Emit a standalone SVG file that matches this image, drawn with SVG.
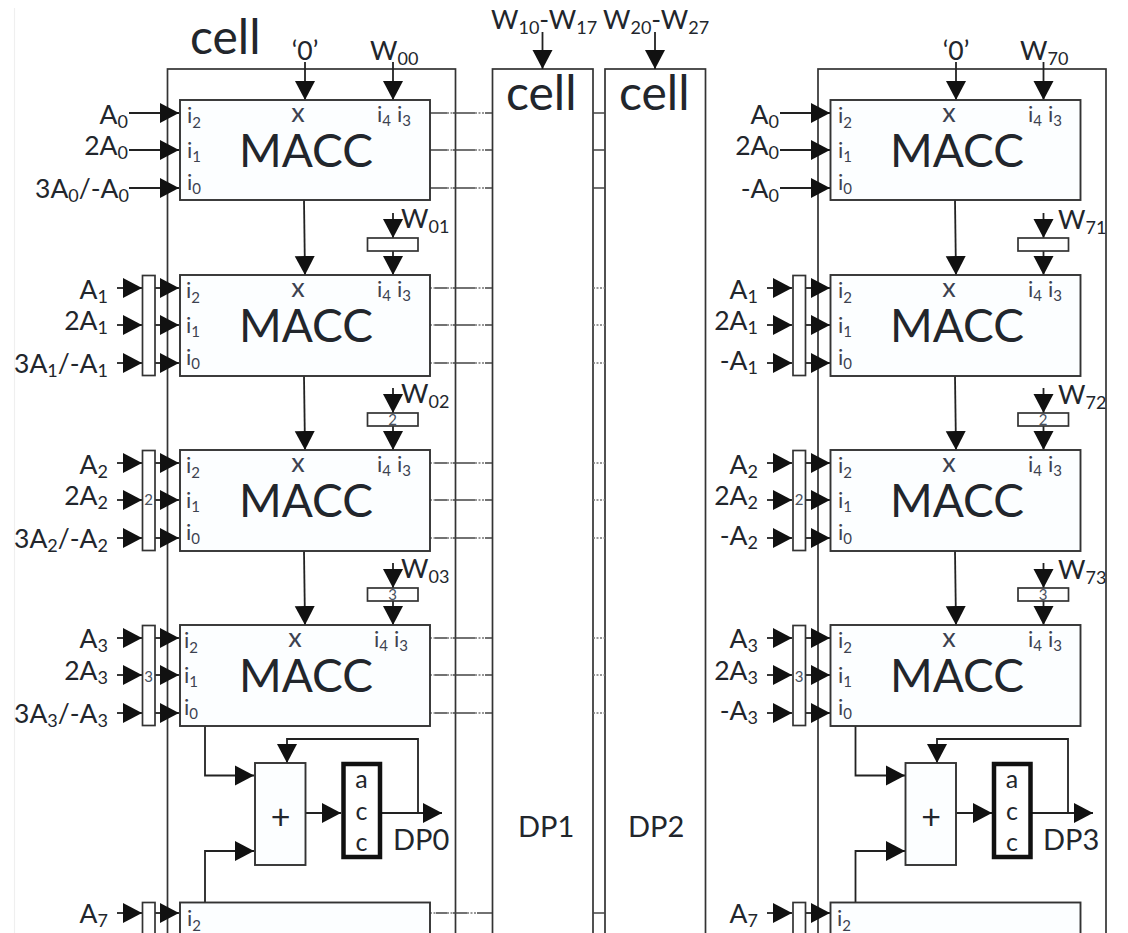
<svg xmlns="http://www.w3.org/2000/svg" width="1128" height="933" viewBox="0 0 1128 933">
<style>
text{font-family:"Lato","Carlito","Noto Sans",sans-serif;fill:#22262c}
.box{fill:#fff;stroke:#333;stroke-width:1.7}
.mb{fill:#fcfeff;stroke:#333;stroke-width:1.9}
.acc{fill:#fff;stroke:#111;stroke-width:4.5}
.a{stroke:#222;stroke-width:1.8;fill:none;marker-end:url(#h)}
.o{stroke:#444;stroke-width:1.4;fill:none}
.d{stroke:#777;stroke-width:1.4;fill:none;stroke-dasharray:2 1.5}
.big{font-size:48px}
.m{font-size:46px;text-anchor:middle}
.l{font-size:26.500px}
.e{font-size:26.500px;text-anchor:end}
.dp{font-size:29px}
.i{font-size:22px;fill:#3c4250}
.x{font-size:27px;text-anchor:middle;fill:#3c4250}
.s{font-size:18px}
.t{font-size:15px}
.n{font-size:15px;fill:#4a5260;text-anchor:middle}
.ac{font-size:25px;text-anchor:middle}
</style>
<defs>
<marker id="h" markerUnits="userSpaceOnUse" markerWidth="20" markerHeight="21" refX="19" refY="10.500" orient="auto"><path d="M0,0.500 L19,10.500 L0,20.500 Z" fill="#111"/></marker>
</defs>
<path d="M14.500,8V933" stroke="#efefef" stroke-width="1.2" fill="none"/>

<g id="cell0"><rect class="box" x="167.500" y="69" width="288" height="900"/><text class="big" x="190" y="54">cell</text></g>
<g id="cell1"><rect class="box" x="492.500" y="69" width="100.500" height="900"/><text class="big" x="506" y="110">cell</text><text class="dp" x="518" y="837">DP1</text></g>
<g id="cell2"><rect class="box" x="605" y="69" width="100.500" height="900"/><text class="big" x="619" y="110">cell</text><text class="dp" x="628" y="837">DP2</text></g>
<g id="cell3"><rect class="box" x="818" y="69" width="288" height="900"/></g>

<g id="connectors">
<path class="a" d="M305,62V100"/><path class="a" d="M393,62V100"/>
<path class="a" d="M304,200L305,275"/><path class="a" d="M393,213V238"/><path class="a" d="M393,251V275"/>
<path class="a" d="M304,376L305,450"/><path class="a" d="M393,388V413"/><path class="a" d="M393,426V450"/>
<path class="a" d="M304,551L305,625"/><path class="a" d="M393,563V588"/><path class="a" d="M393,601V625"/>
<path class="a" d="M129,113H179"/><path class="a" d="M129,150H179"/><path class="a" d="M129,188H179"/>
<path class="a" d="M117,288H142"/><path class="a" d="M117,325H142"/><path class="a" d="M117,363H142"/>
<path class="a" d="M155,288H179"/><path class="a" d="M155,325H179"/><path class="a" d="M155,363H179"/>
<path class="a" d="M117,463H142"/><path class="a" d="M117,500H142"/><path class="a" d="M117,538H142"/>
<path class="a" d="M155,463H179"/><path class="a" d="M155,500H179"/><path class="a" d="M155,538H179"/>
<path class="a" d="M117,638H142"/><path class="a" d="M117,675H142"/><path class="a" d="M117,713H142"/>
<path class="a" d="M155,638H179"/><path class="a" d="M155,675H179"/><path class="a" d="M155,713H179"/>
<path class="a" d="M117,913H142"/><path class="a" d="M155,913H179"/>
<path class="a" d="M205,726V775.500H254"/><path class="a" d="M205,902V851H254"/>
<path class="a" d="M418,813V739H287V763"/><path class="a" d="M305,813H341"/><path class="a" d="M382,813H442"/>
<path class="a" d="M542.500,32V69"/><path class="a" d="M655,32V69"/>
<path class="a" d="M956,62V100"/><path class="a" d="M1043.500,62V100"/>
<path class="a" d="M955,200L956,275"/><path class="a" d="M1043.500,213V238"/><path class="a" d="M1043.500,251V275"/>
<path class="a" d="M955,376L956,450"/><path class="a" d="M1043.500,388V413"/><path class="a" d="M1043.500,426V450"/>
<path class="a" d="M955,551L956,625"/><path class="a" d="M1043.500,563V588"/><path class="a" d="M1043.500,601V625"/>
<path class="a" d="M780,113H830"/><path class="a" d="M780,150H830"/><path class="a" d="M780,188H830"/>
<path class="a" d="M767,288H792"/><path class="a" d="M767,325H792"/><path class="a" d="M767,363H792"/>
<path class="a" d="M806,288H830"/><path class="a" d="M806,325H830"/><path class="a" d="M806,363H830"/>
<path class="a" d="M767,463H792"/><path class="a" d="M767,500H792"/><path class="a" d="M767,538H792"/>
<path class="a" d="M806,463H830"/><path class="a" d="M806,500H830"/><path class="a" d="M806,538H830"/>
<path class="a" d="M767,638H792"/><path class="a" d="M767,675H792"/><path class="a" d="M767,713H792"/>
<path class="a" d="M806,638H830"/><path class="a" d="M806,675H830"/><path class="a" d="M806,713H830"/>
<path class="a" d="M767,913H792"/><path class="a" d="M806,913H830"/>
<path class="a" d="M855.500,726V775.500H905"/><path class="a" d="M855.500,902V851H905"/>
<path class="a" d="M1068,813V739H937V763"/><path class="a" d="M955.500,813H992"/><path class="a" d="M1032,813H1093"/>
<path class="o" d="M430,113H447M453,113H475M485,113H492M430,150H447M453,150H475M485,150H492M430,188H447M453,188H475M485,188H492"/>
<path class="d" d="M447,113H453M475,113H485M447,150H453M475,150H485M447,188H453M475,188H485"/>
<path class="o" d="M435,288H447M453,288H475M485,288H492M435,325H447M453,325H475M485,325H492M435,363H447M453,363H475M485,363H492"/>
<path class="d" d="M430,288H435M447,288H453M475,288H485M430,325H435M447,325H453M475,325H485M430,363H435M447,363H453M475,363H485"/>
<path class="o" d="M435,463H447M453,463H475M485,463H492M435,500H447M453,500H475M485,500H492M435,538H447M453,538H475M485,538H492"/>
<path class="d" d="M430,463H435M447,463H453M475,463H485M430,500H435M447,500H453M475,500H485M430,538H435M447,538H453M475,538H485"/>
<path class="o" d="M435,638H447M453,638H475M485,638H492M435,675H447M453,675H475M485,675H492M435,713H447M453,713H475M485,713H492"/>
<path class="d" d="M430,638H435M447,638H453M475,638H485M430,675H435M447,675H453M475,675H485M430,713H435M447,713H453M475,713H485"/>
<path class="o" d="M436,913H447M453,913H467M477,913H492"/><path class="d" d="M430,913H436M447,913H453M467,913H477"/>
<path class="o" d="M593,113H605M593,150H605M593,188H605M593,913H605"/>
<path class="d" d="M593,288H605M593,325H605M593,363H605M593,463H605M593,500H605M593,538H605M593,638H605M593,675H605M593,713H605"/>
</g>

<g id="top-labels">
<text class="l" x="305" y="60" text-anchor="middle">‘0’</text>
<text class="l" x="370" y="60">W<tspan class="s" dy="5">00</tspan></text>
<text class="l" x="491" y="29">W<tspan class="s" dy="5">10</tspan><tspan dy="-5">-W</tspan><tspan class="s" dy="5">17</tspan></text>
<text class="l" x="603" y="29">W<tspan class="s" dy="5">20</tspan><tspan dy="-5">-W</tspan><tspan class="s" dy="5">27</tspan></text>
<text class="l" x="956" y="60" text-anchor="middle">‘0’</text>
<text class="l" x="1020" y="60">W<tspan class="s" dy="5">70</tspan></text>
</g>

<g id="macc-l0"><rect class="mb" x="180" y="100" width="250" height="100"/><text class="x" x="298" y="122">x</text><text class="i" x="377" y="122">i<tspan class="t" dy="4">4</tspan></text><text class="i" x="397" y="122">i<tspan class="t" dy="4">3</tspan></text><text class="i" x="187" y="123">i<tspan class="t" dy="5">2</tspan></text><text class="i" x="187" y="158">i<tspan class="t" dy="4">1</tspan></text><text class="i" x="187" y="190">i<tspan class="t" dy="4">0</tspan></text><text class="m" x="306" y="167">MACC</text></g>
<g id="macc-l1"><rect class="mb" x="180" y="275" width="250" height="101"/><text class="x" x="298" y="297">x</text><text class="i" x="377" y="297">i<tspan class="t" dy="4">4</tspan></text><text class="i" x="397" y="297">i<tspan class="t" dy="4">3</tspan></text><text class="i" x="186" y="298">i<tspan class="t" dy="5">2</tspan></text><text class="i" x="186" y="333">i<tspan class="t" dy="4">1</tspan></text><text class="i" x="186" y="365">i<tspan class="t" dy="4">0</tspan></text><text class="m" x="306" y="342">MACC</text></g>
<g id="macc-l2"><rect class="mb" x="180" y="450" width="250" height="101"/><text class="x" x="298" y="472">x</text><text class="i" x="377" y="472">i<tspan class="t" dy="4">4</tspan></text><text class="i" x="397" y="472">i<tspan class="t" dy="4">3</tspan></text><text class="i" x="186" y="473">i<tspan class="t" dy="5">2</tspan></text><text class="i" x="186" y="508">i<tspan class="t" dy="4">1</tspan></text><text class="i" x="186" y="540">i<tspan class="t" dy="4">0</tspan></text><text class="m" x="306" y="517">MACC</text></g>
<g id="macc-l3"><rect class="mb" x="180" y="625" width="250" height="101"/><text class="x" x="295" y="647">x</text><text class="i" x="374" y="647">i<tspan class="t" dy="4">4</tspan></text><text class="i" x="394" y="647">i<tspan class="t" dy="4">3</tspan></text><text class="i" x="184" y="648">i<tspan class="t" dy="5">2</tspan></text><text class="i" x="184" y="683">i<tspan class="t" dy="4">1</tspan></text><text class="i" x="184" y="715">i<tspan class="t" dy="4">0</tspan></text><text class="m" x="306" y="692">MACC</text></g>
<g id="macc-l7"><rect class="mb" x="180" y="902.500" width="250" height="100"/><text class="i" x="187" y="926">i<tspan class="t" dy="5">2</tspan></text><text class="m" x="306" y="966">MACC</text></g>

<g id="macc-r0"><rect class="mb" x="830.500" y="100" width="250" height="100"/><text class="x" x="949" y="122">x</text><text class="i" x="1028" y="122">i<tspan class="t" dy="4">4</tspan></text><text class="i" x="1048" y="122">i<tspan class="t" dy="4">3</tspan></text><text class="i" x="838" y="123">i<tspan class="t" dy="5">2</tspan></text><text class="i" x="838" y="158">i<tspan class="t" dy="4">1</tspan></text><text class="i" x="838" y="190">i<tspan class="t" dy="4">0</tspan></text><text class="m" x="957" y="167">MACC</text></g>
<g id="macc-r1"><rect class="mb" x="830.500" y="275" width="250" height="101"/><text class="x" x="949" y="297">x</text><text class="i" x="1028" y="297">i<tspan class="t" dy="4">4</tspan></text><text class="i" x="1048" y="297">i<tspan class="t" dy="4">3</tspan></text><text class="i" x="838" y="298">i<tspan class="t" dy="5">2</tspan></text><text class="i" x="838" y="333">i<tspan class="t" dy="4">1</tspan></text><text class="i" x="838" y="365">i<tspan class="t" dy="4">0</tspan></text><text class="m" x="957" y="342">MACC</text></g>
<g id="macc-r2"><rect class="mb" x="830.500" y="450" width="250" height="101"/><text class="x" x="949" y="472">x</text><text class="i" x="1028" y="472">i<tspan class="t" dy="4">4</tspan></text><text class="i" x="1048" y="472">i<tspan class="t" dy="4">3</tspan></text><text class="i" x="838" y="473">i<tspan class="t" dy="5">2</tspan></text><text class="i" x="838" y="508">i<tspan class="t" dy="4">1</tspan></text><text class="i" x="838" y="540">i<tspan class="t" dy="4">0</tspan></text><text class="m" x="957" y="517">MACC</text></g>
<g id="macc-r3"><rect class="mb" x="830.500" y="625" width="250" height="101"/><text class="x" x="949" y="647">x</text><text class="i" x="1028" y="647">i<tspan class="t" dy="4">4</tspan></text><text class="i" x="1048" y="647">i<tspan class="t" dy="4">3</tspan></text><text class="i" x="838" y="648">i<tspan class="t" dy="5">2</tspan></text><text class="i" x="838" y="683">i<tspan class="t" dy="4">1</tspan></text><text class="i" x="838" y="715">i<tspan class="t" dy="4">0</tspan></text><text class="m" x="957" y="692">MACC</text></g>
<g id="macc-r7"><rect class="mb" x="830.500" y="902.500" width="250" height="100"/><text class="i" x="837" y="926">i<tspan class="t" dy="5">2</tspan></text><text class="m" x="957" y="966">MACC</text></g>

<g id="regs-l">
<rect class="box" x="142.500" y="275.500" width="12.500" height="100"/>
<rect class="box" x="142.500" y="450.500" width="12.500" height="100"/><text class="n" x="148.700" y="505">2</text>
<rect class="box" x="142.500" y="625.500" width="12.500" height="100"/><text class="n" x="148.700" y="682">3</text>
<rect class="box" x="142.500" y="902.500" width="12.500" height="60"/>
<rect class="box" x="367.500" y="238" width="50.500" height="13"/>
<rect class="box" x="367.500" y="413" width="50.500" height="13"/><text class="n" x="392.500" y="425">2</text>
<rect class="box" x="367.500" y="588" width="50.500" height="13"/><text class="n" x="392.500" y="600">3</text>
</g>
<g id="regs-r">
<rect class="box" x="793" y="275.500" width="12.500" height="100"/>
<rect class="box" x="793" y="450.500" width="12.500" height="100"/><text class="n" x="799.200" y="505">2</text>
<rect class="box" x="793" y="625.500" width="12.500" height="100"/><text class="n" x="799.200" y="682">3</text>
<rect class="box" x="793" y="902.500" width="12.500" height="60"/>
<rect class="box" x="1018" y="238" width="50.500" height="13"/>
<rect class="box" x="1018" y="413" width="50.500" height="13"/><text class="n" x="1043" y="425">2</text>
<rect class="box" x="1018" y="588" width="50.500" height="13"/><text class="n" x="1043" y="600">3</text>
</g>

<g id="adder-l"><rect class="mb" x="255" y="763" width="50.500" height="102"/><text x="280.500" y="829" font-size="34" text-anchor="middle">+</text></g>
<g id="acc-l"><rect class="acc" x="343.500" y="764" width="36.500" height="93"/><text class="ac" x="361.500" y="788">a</text><text class="ac" x="361.500" y="820">c</text><text class="ac" x="361.500" y="851">c</text></g>
<text class="dp" x="393" y="850">DP0</text>
<g id="adder-r"><rect class="mb" x="905.500" y="763" width="50.500" height="102"/><text x="931" y="829" font-size="34" text-anchor="middle">+</text></g>
<g id="acc-r"><rect class="acc" x="994" y="764" width="36.500" height="93"/><text class="ac" x="1012" y="788">a</text><text class="ac" x="1012" y="820">c</text><text class="ac" x="1012" y="851">c</text></g>
<text class="dp" x="1043" y="850">DP3</text>

<g id="labels-l">
<text class="e" x="128" y="124">A<tspan class="s" dy="4">0</tspan></text>
<text class="e" x="128" y="155">2A<tspan class="s" dy="4">0</tspan></text>
<text class="e" x="129" y="198">3A<tspan class="s" dy="4">0</tspan><tspan dy="-4">/-A</tspan><tspan class="s" dy="4">0</tspan></text>
<text class="e" x="108" y="299">A<tspan class="s" dy="4">1</tspan></text>
<text class="e" x="108" y="330">2A<tspan class="s" dy="4">1</tspan></text>
<text class="e" x="108" y="373">3A<tspan class="s" dy="4">1</tspan><tspan dy="-4">/-A</tspan><tspan class="s" dy="4">1</tspan></text>
<text class="e" x="108" y="474">A<tspan class="s" dy="4">2</tspan></text>
<text class="e" x="108" y="505">2A<tspan class="s" dy="4">2</tspan></text>
<text class="e" x="108" y="548">3A<tspan class="s" dy="4">2</tspan><tspan dy="-4">/-A</tspan><tspan class="s" dy="4">2</tspan></text>
<text class="e" x="108" y="648">A<tspan class="s" dy="4">3</tspan></text>
<text class="e" x="108" y="680">2A<tspan class="s" dy="4">3</tspan></text>
<text class="e" x="108" y="723">3A<tspan class="s" dy="4">3</tspan><tspan dy="-4">/-A</tspan><tspan class="s" dy="4">3</tspan></text>
<text class="e" x="108" y="923">A<tspan class="s" dy="4">7</tspan></text>
<text class="l" x="401" y="228">W<tspan class="s" dy="5">01</tspan></text>
<text class="l" x="401" y="403">W<tspan class="s" dy="5">02</tspan></text>
<text class="l" x="401" y="578">W<tspan class="s" dy="5">03</tspan></text>
</g>
<g id="labels-r">
<text class="e" x="779" y="124">A<tspan class="s" dy="4">0</tspan></text>
<text class="e" x="779" y="155">2A<tspan class="s" dy="4">0</tspan></text>
<text class="e" x="779" y="198">-A<tspan class="s" dy="4">0</tspan></text>
<text class="e" x="758" y="299">A<tspan class="s" dy="4">1</tspan></text>
<text class="e" x="758" y="330">2A<tspan class="s" dy="4">1</tspan></text>
<text class="e" x="758" y="370">-A<tspan class="s" dy="4">1</tspan></text>
<text class="e" x="758" y="474">A<tspan class="s" dy="4">2</tspan></text>
<text class="e" x="758" y="505">2A<tspan class="s" dy="4">2</tspan></text>
<text class="e" x="758" y="545">-A<tspan class="s" dy="4">2</tspan></text>
<text class="e" x="758" y="648">A<tspan class="s" dy="4">3</tspan></text>
<text class="e" x="758" y="680">2A<tspan class="s" dy="4">3</tspan></text>
<text class="e" x="758" y="720">-A<tspan class="s" dy="4">3</tspan></text>
<text class="e" x="758" y="923">A<tspan class="s" dy="4">7</tspan></text>
<text class="l" x="1058" y="229">W<tspan class="s" dy="5">71</tspan></text>
<text class="l" x="1058" y="404">W<tspan class="s" dy="5">72</tspan></text>
<text class="l" x="1058" y="579">W<tspan class="s" dy="5">73</tspan></text>
</g>
</svg>
